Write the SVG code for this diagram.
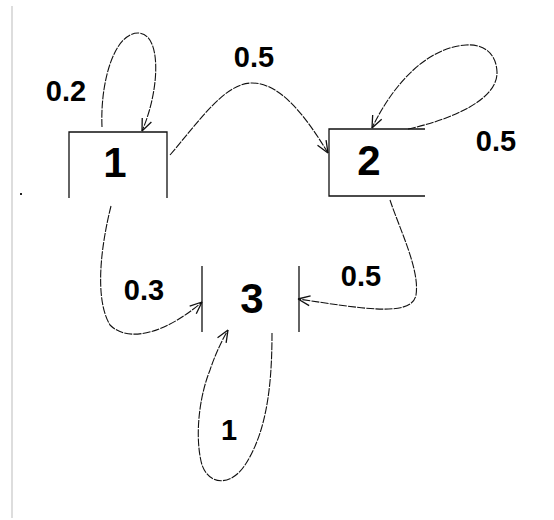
<svg xmlns="http://www.w3.org/2000/svg" width="554" height="520" viewBox="0 0 554 520">
<style>
.box{fill:none;stroke:#111;stroke-width:1.3}
.edge{fill:none;stroke:#111;stroke-width:1.1;stroke-dasharray:8 1.2}
.nl{font-family:"Liberation Sans",Arial,sans-serif;font-weight:bold;font-size:42px;fill:#000;text-anchor:middle}
.el{font-family:"Liberation Sans",Arial,sans-serif;font-weight:bold;font-size:29px;fill:#000;text-anchor:middle}
</style>
<defs>
<marker id="arr" markerUnits="userSpaceOnUse" markerWidth="30" markerHeight="30" viewBox="-15 -15 30 30" refX="0" refY="0" orient="auto">
<path d="M0,0 L-12,-5 M0,0 L-12,5" fill="none" stroke="#111" stroke-width="1.3"/>
</marker>
</defs>
<rect width="554" height="520" fill="#fff"/>
<line x1="12" y1="6" x2="12" y2="518" stroke="#bbb" stroke-width="1"/>
<rect x="20" y="193" width="2" height="2" fill="#222"/>
<g id="connectors">
<path class="edge" d="M102,127 C100,80 115,33 138,33 C162,33 160,90 142,131" marker-end="url(#arr)"/>
<path class="edge" d="M170,155 C200,120 225,83 252,83 C280,83 305,115 328,153" marker-end="url(#arr)"/>
<path class="edge" d="M408,129 C450,120 498,100 497,72 C496,50 480,44 466,45 C430,47 395,80 372,128" marker-end="url(#arr)"/>
<path class="edge" d="M111,206 C100,250 95,300 110,325 C130,345 170,330 202,302" marker-end="url(#arr)"/>
<path class="edge" d="M390,200 C400,230 420,270 416,295 C412,318 360,308 298,299" marker-end="url(#arr)"/>
<path class="edge" d="M272,333 C272,380 268,430 245,465 C232,485 210,487 202,465 C195,440 198,400 210,370 C215,355 222,340 228,330" marker-end="url(#arr)"/>
</g>
<g id="node1">
<path class="box" d="M69,198 V132 H167 V198"/>
<text class="nl" x="115" y="177">1</text>
</g>
<g id="node2">
<path class="box" d="M425,129 H329 V196 H425"/>
<text class="nl" x="369" y="175">2</text>
</g>
<g id="node3">
<path class="box" d="M202,266 V332 M299,266 V332"/>
<text class="nl" x="252" y="313">3</text>
</g>
<g id="labels">
<text class="el" x="66" y="101">0.2</text>
<text class="el" x="254" y="67">0.5</text>
<text class="el" x="496" y="151">0.5</text>
<text class="el" x="144" y="300">0.3</text>
<text class="el" x="361" y="286">0.5</text>
<text class="el" x="229" y="440">1</text>
</g>
</svg>
